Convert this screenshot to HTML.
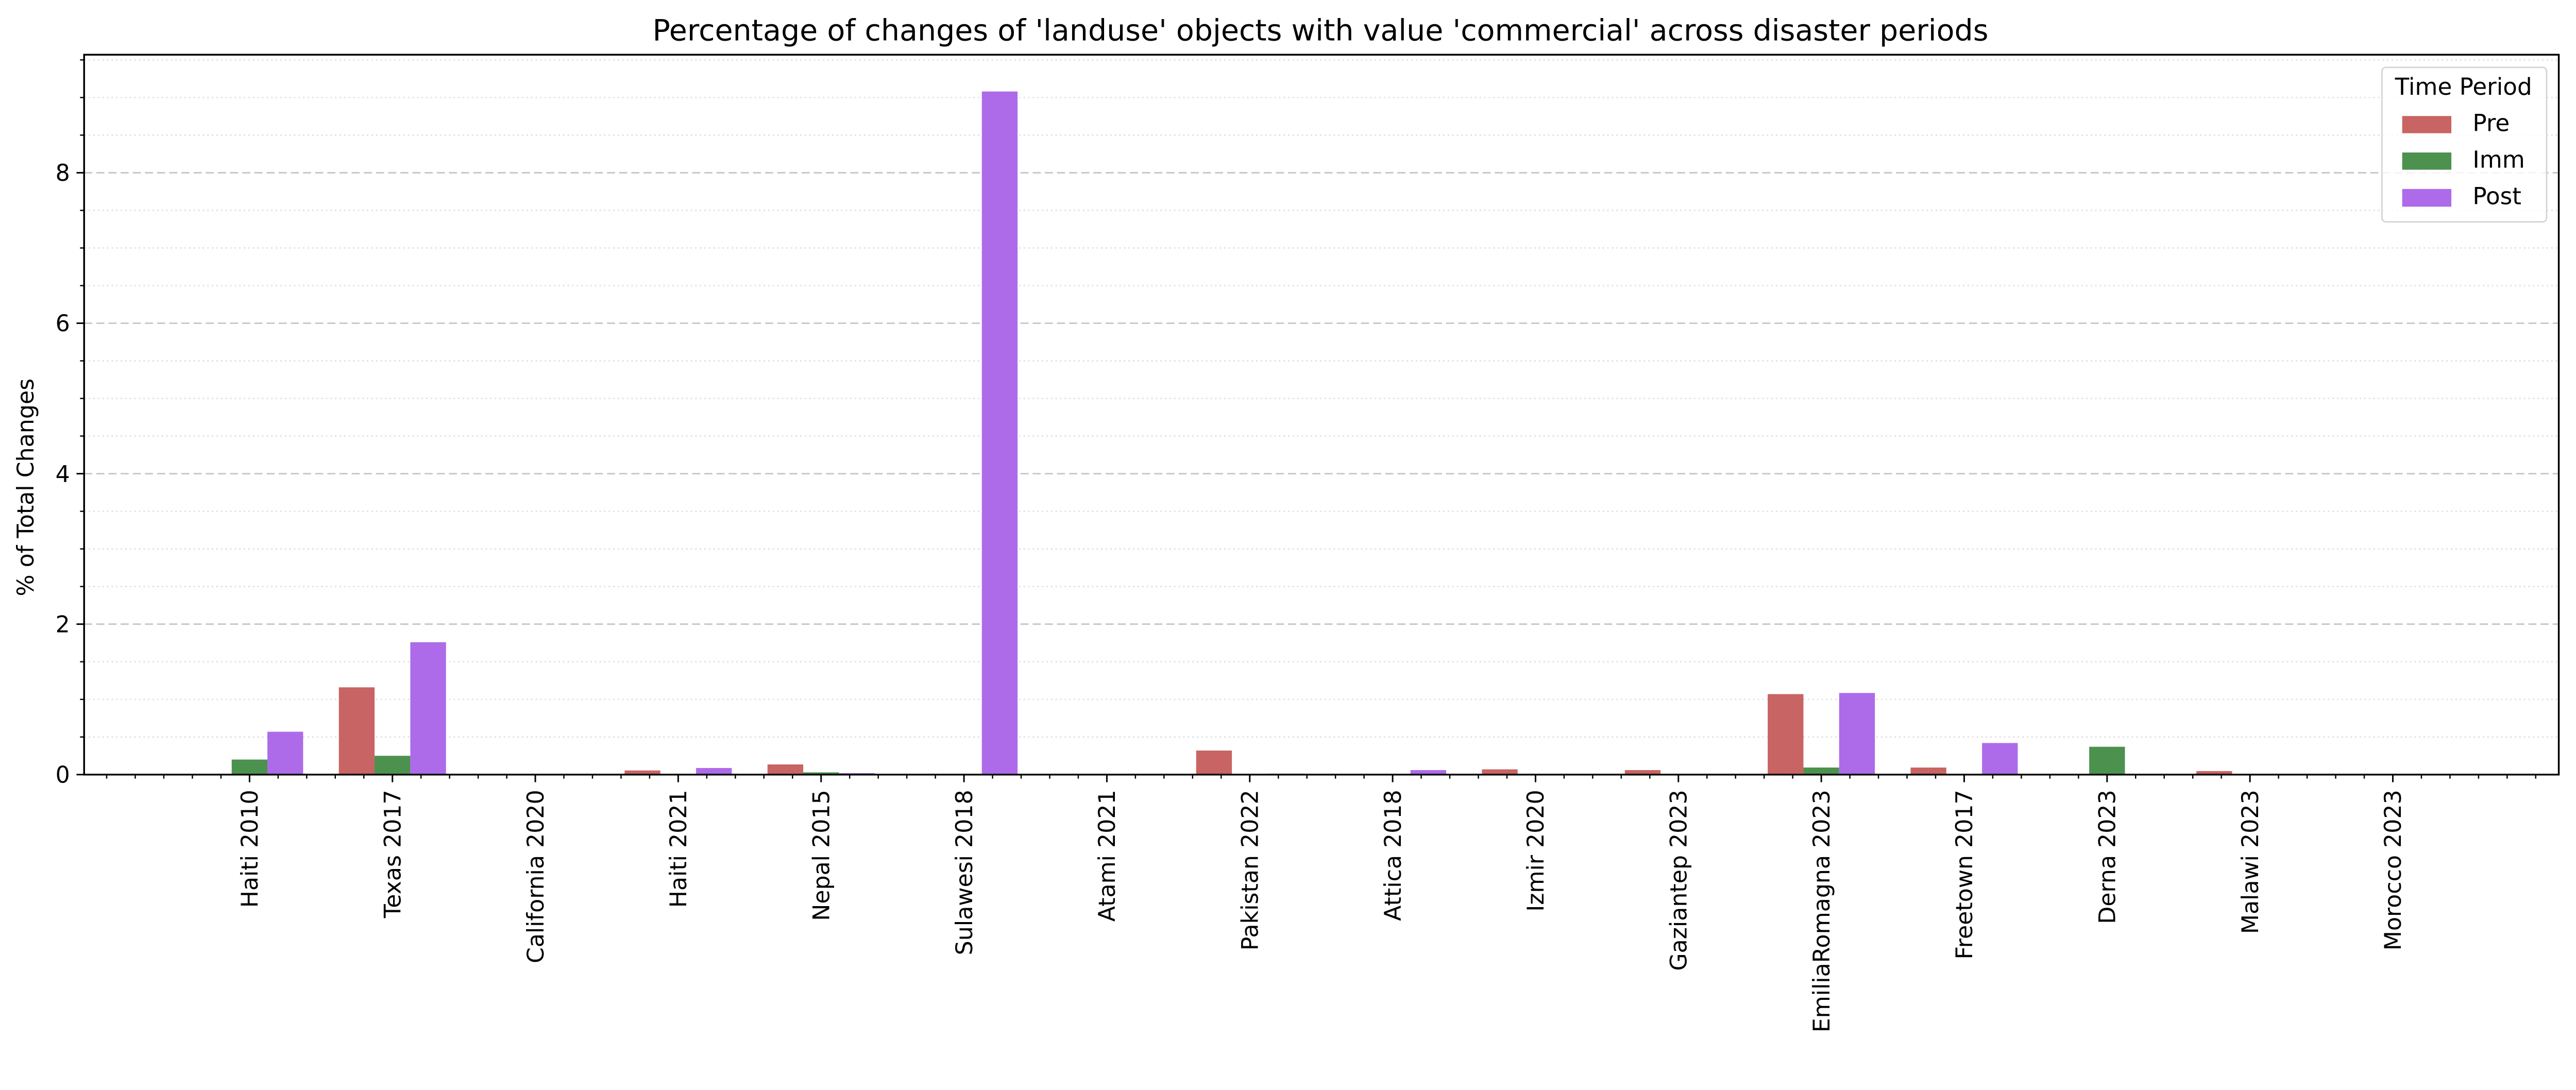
<!DOCTYPE html>
<html><head><meta charset="utf-8">
<style>
html,body{margin:0;padding:0;background:#fff;overflow:hidden;width:100%;height:100%;}
svg{display:block;position:absolute;left:0;top:0;width:100vw;height:auto;font-family:"DejaVu Sans","Liberation Sans",sans-serif;}
</style></head>
<body>
<svg id="chart" viewBox="0 0 5084 2116" xmlns="http://www.w3.org/2000/svg">
<rect width="5084" height="2116" fill="#fff"/>
<text x="2606" y="80" font-size="58" text-anchor="middle">Percentage of changes of 'landuse' objects with value 'commercial' across disaster periods</text>
<text transform="translate(66,962) rotate(-90)" font-size="45" text-anchor="middle">% of Total Changes</text>
<g id="grid"></g>
<g id="bars"></g>
<g id="axes"></g>
<g id="legend">
<rect x="4701" y="133" width="325" height="305" rx="8" fill="#fff" fill-opacity="0.8" stroke="#d6d6d6" stroke-width="3"/>
<text x="4862" y="187" font-size="46" text-anchor="middle">Time Period</text>
<rect x="4741" y="229" width="97" height="34" fill="#c86464"/>
<text x="4880" y="259" font-size="46">Pre</text>
<rect x="4741" y="301" width="97" height="34" fill="#4c914e"/>
<text x="4880" y="331" font-size="46">Imm</text>
<rect x="4741" y="373" width="97" height="35" fill="#ad6be9"/>
<text x="4880" y="403" font-size="46">Post</text>
</g>
</svg>
<script>
const categories = ["Haiti 2010","Texas 2017","California 2020","Haiti 2021","Nepal 2015","Sulawesi 2018","Atami 2021","Pakistan 2022","Attica 2018","Izmir 2020","Gaziantep 2023","EmiliaRomagna 2023","Freetown 2017","Derna 2023","Malawi 2023","Morocco 2023"];
const preValues  = [0, 1.16, 0, 0.055, 0.135, 0, 0, 0.32, 0, 0.07, 0.06, 1.07, 0.094, 0, 0.047, 0];
const immValues  = [0.2, 0.25, 0, 0, 0.03, 0, 0, 0, 0, 0.01, 0, 0.094, 0, 0.37, 0, 0];
const postValues = [0.57, 1.76, 0, 0.088, 0.02, 9.08, 0, 0.013, 0.06, 0, 0, 1.085, 0.42, 0, 0, 0];
const seriesNames = ["pre","imm","post"];
const yMajorTicks = [0, 2, 4, 6, 8];
const yMinorTicks = [0.5,1,1.5,2.5,3,3.5,4.5,5,5.5,6.5,7,7.5,8.5,9,9.5];

const NS = "http://www.w3.org/2000/svg";
const X0 = 166, X1 = 5050, Y0 = 1529, YTOP = 108;
const YMAX = (Y0 - YTOP) / 148.5;
const step = 282, first = 492.5;
function xScale(i){ return first + i * step; }
function yScale(v){ return Y0 - (v / YMAX) * (Y0 - YTOP); }
function mk(tag, attrs, parent){ const e = document.createElementNS(NS, tag); for (const k in attrs) e.setAttribute(k, attrs[k]); parent.appendChild(e); return e; }

const grid = document.getElementById('grid');
yMinorTicks.forEach(v => {
  const l = mk('line', {x1: X0, x2: X1, y1: yScale(v), y2: yScale(v), stroke: '#dcdcdc', 'stroke-width': 2.5, 'stroke-dasharray': '3,6'}, grid);
  
  
});
yMajorTicks.forEach(v => {
  if (v === 0) return;
  const l = mk('line', {x1: X0, x2: X1, y1: yScale(v), y2: yScale(v), stroke: '#c8c8c8', 'stroke-width': 3, 'stroke-dasharray': '16,8'}, grid);
  
  
});

const bars = document.getElementById('bars');
const colors = ['#c86464', '#4c914e', '#ad6be9'];
const allSeries = [preValues, immValues, postValues];
const bw = step * 0.25;
allSeries.forEach((vals, s) => {
  vals.forEach((v, i) => {
    if (v <= 0) return;
    const x = xScale(i) + (s - 1.5) * bw;
    const r = mk('rect', {x: x, y: yScale(v), width: bw, height: Y0 - yScale(v), fill: colors[s]}, bars);
    
    
  });
});

const axes = document.getElementById('axes');
const frame = mk('rect', {x: X0, y: YTOP, width: X1 - X0, height: Y0 - YTOP, fill: 'none', stroke: '#000', 'stroke-width': 3.5}, axes);


yMajorTicks.forEach(v => {
  mk('line', {x1: X0 - 15, x2: X0, y1: yScale(v), y2: yScale(v), stroke: '#000', 'stroke-width': 3}, axes);
  const t = mk('text', {x: X0 - 28, y: yScale(v) + 16, 'font-size': 45, 'text-anchor': 'end'}, axes);
  t.textContent = String(v);
  
  
});
yMinorTicks.forEach(v => {
  mk('line', {x1: X0 - 8, x2: X0, y1: yScale(v), y2: yScale(v), stroke: '#000', 'stroke-width': 2.5}, axes);
});
for (let k = -5; k <= 16 * 5 + 5; k++) {
  const x = first + k * step / 5;
  if (x < X0 + 2 || x > X1 - 2) continue;
  const major = (k % 5 === 0) && k / 5 >= 0 && k / 5 < categories.length;
  mk('line', {x1: x, x2: x, y1: Y0, y2: Y0 + (major ? 15 : 8), stroke: '#000', 'stroke-width': major ? 3 : 2.5}, axes);
}
categories.forEach((c, i) => {
  const t = mk('text', {transform: 'translate(' + (xScale(i) + 16) + ',' + (Y0 + 30) + ') rotate(-90)', 'font-size': 45, 'text-anchor': 'end'}, axes);
  t.textContent = c;
  
  
});
</script>
</body></html>
